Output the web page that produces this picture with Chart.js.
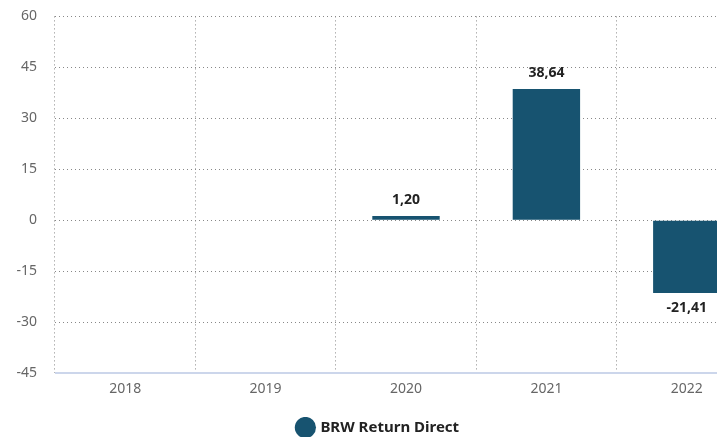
<!DOCTYPE html>
<html>
<head>
<meta charset="utf-8">
<script src="https://cdn.jsdelivr.net/npm/chart.js@4"></script>
<style>
  html, body { margin: 0; padding: 0; background: #fff; overflow: hidden; }
  #wrap { width: 757px; height: 437px; overflow: hidden; }
  #chart { display: block; margin-top: -10px; }
</style>
</head>
<body>
<div id="wrap"><canvas id="chart" width="757" height="447"></canvas></div>
<script>
const years = ["2018", "2019", "2020", "2021", "2022"];
const returns = [null, null, 1.20, 38.64, -21.41];
const yTicks = [-45, -30, -15, 0, 15, 30, 45, 60];
const seriesName = "BRW Return Direct";
const barColor = "#175370";

// value above/below each bar, comma decimals
const valueLabels = {
  id: "valueLabels",
  afterDatasetsDraw(chart) {
    const ctx = chart.ctx;
    const meta = chart.getDatasetMeta(0);
    ctx.save();
    ctx.font = "bold 14px 'Noto Sans', sans-serif";
    ctx.fillStyle = "#222";
    ctx.textAlign = "center";
    ctx.textBaseline = "middle";
    meta.data.forEach((bar, i) => {
      const v = returns[i];
      if (v === null) return;
      const txt = v.toFixed(2).replace(".", ",");
      const y = v >= 0 ? bar.y - 16 : bar.y + 15;
      ctx.fillText(txt, bar.x, y);
    });
    ctx.restore();
  }
};

// solid light axis line along the bottom
const axisLine = {
  id: "axisLine",
  afterDraw(chart) {
    const { ctx, chartArea } = chart;
    ctx.save();
    ctx.strokeStyle = "#ccd6eb";
    ctx.lineWidth = 2;
    ctx.beginPath();
    ctx.moveTo(chartArea.left, chartArea.bottom);
    ctx.lineTo(chartArea.right, chartArea.bottom);
    ctx.stroke();
    ctx.restore();
  }
};

const ctx = document.getElementById("chart").getContext("2d");
new Chart(ctx, {
  type: "bar",
  data: {
    labels: years,
    datasets: [{
      label: seriesName,
      data: returns,
      backgroundColor: barColor,
      borderColor: barColor,
      barPercentage: 0.48,
      categoryPercentage: 1
    }]
  },
  options: {
    responsive: false,
    animation: false,
    layout: { padding: { top: 0, left: 0, right: 0, bottom: -8 } },
    plugins: {
      legend: {
        position: "bottom",
        labels: {
          usePointStyle: true,
          pointStyle: "circle",
          boxWidth: 15,
          boxHeight: 15,
          padding: 3,
          color: "#222",
          font: { family: "'Noto Sans', sans-serif", size: 15, weight: "bold" }
        }
      },
      tooltip: { enabled: false }
    },
    scales: {
      x: {
        grid: { display: true, drawTicks: false, color: "#888" },
        border: { display: false, dash: [1, 3] },
        ticks: {
          color: "#666",
          padding: 8,
          font: { family: "'Noto Sans', sans-serif", size: 14 }
        },
        afterFit(scale) { scale.height = 44; }
      },
      y: {
        min: -45,
        max: 60,
        afterBuildTicks(scale) { scale.ticks = yTicks.map(v => ({ value: v })); },
        grid: { drawTicks: false, color: "#888" },
        border: { display: false, dash: [1, 3] },
        ticks: {
          color: "#666",
          padding: 18,
          font: { family: "'Noto Sans', sans-serif", size: 14 }
        },
        afterFit(scale) { scale.width = 55; }
      }
    }
  },
  plugins: [valueLabels, axisLine]
});
</script>
</body>
</html>
